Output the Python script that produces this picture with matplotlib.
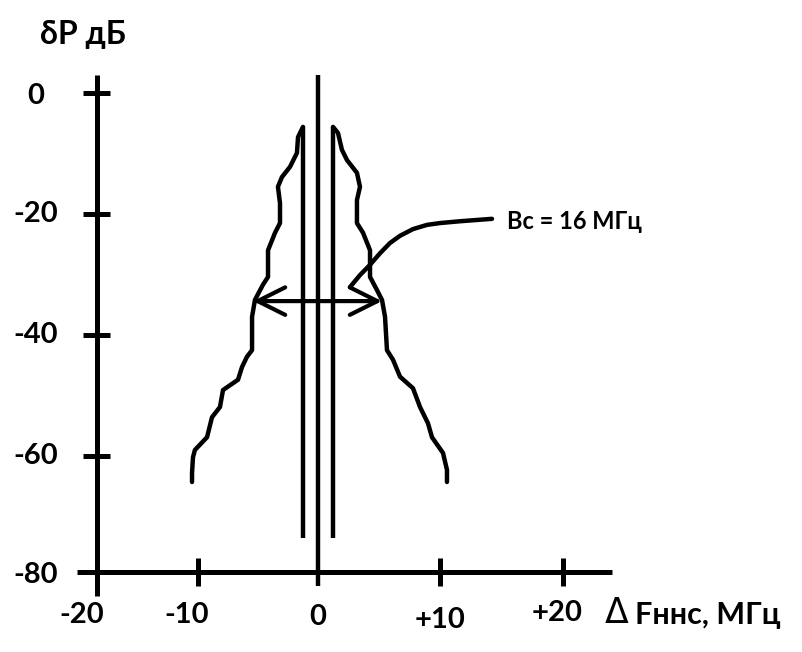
import matplotlib.pyplot as plt

# spectrum edges (MHz, dB)
left_f = [-1.24, -1.65, -1.74, -2.31, -2.98, -3.31, -3.14, -3.14, -3.55, -4.13,
          -4.13, -4.55, -5.21, -5.45, -5.45, -5.87, -6.28, -6.61, -7.85, -8.10,
          -8.76, -9.17, -10.17, -10.33, -10.41, -10.41]
left_p = [-5.6, -7.3, -9.9, -12.2, -13.9, -15.5, -18.2, -21.5, -23.1, -26.0,
          -30.4, -31.7, -34.2, -37.0, -42.5, -43.6, -45.3, -47.4, -49.1, -51.9,
          -53.6, -56.9, -59.0, -60.2, -62.8, -64.3]
right_f = [1.24, 1.65, 1.98, 2.40, 3.22, 3.47, 3.22, 3.22, 3.72, 4.30, 4.30,
           4.88, 5.29, 5.54, 5.70, 6.20, 6.78, 7.85, 8.43, 9.09, 9.42, 10.33,
           10.66, 10.66]
right_p = [-5.6, -6.6, -9.4, -11.1, -13.2, -15.5, -17.7, -21.5, -23.1, -26.0,
           -30.4, -32.6, -34.2, -37.0, -42.5, -44.1, -46.9, -48.8, -51.9, -54.6,
           -56.9, -59.5, -62.3, -64.3]

# carrier lines
carrier_f = [-1.24, 0.0, 1.24]
carrier_top = [-5.6, 3.0, -5.6]
carrier_bottom = [-73.6, -81.5, -73.6]

# bandwidth arrow and leader curve
bw_level = -34.4
bw_edges = [-5.37, 5.29]
leader_f = [2.64, 3.47, 4.30, 5.12, 5.95, 6.78, 7.85, 9.01, 10.08, 11.74, 14.38]
leader_p = [-32.1, -30.1, -28.4, -26.5, -24.8, -23.6, -22.5, -21.8, -21.5, -21.2, -20.8]

# hand drawn axes
yaxis_f = -18.26
xaxis_p = -79.2
y_ticks = [0, -20, -40, -60]
y_labels = ["0", "-20", "-40", "-60", "-80"]
y_label_pos = [-0.5, -20, -40, -60, -79.7]
x_ticks = [-9.92, 10.08, 20.25]
x_labels = ["-20", "-10", "0", "+10", "+20"]
x_label_f = [-19.5, -10.83, 0.0, 10.08, 19.75]
x_label_p = [-86.3, -86.3, -86.6, -87.1, -86.0]

plt.rcParams["font.family"] = ["Lato", "DejaVu Sans"]
plt.rcParams["font.weight"] = "bold"

fig = plt.figure(figsize=(8.02, 6.52), dpi=100)
ax = fig.add_axes([0, 0, 1, 1])
ax.set_xlim(-26.28, 40.0)
ax.set_ylim(-92.4, 15.37)
ax.axis("off")

k = dict(color="black", solid_capstyle="butt")
# axes
ax.plot([yaxis_f, yaxis_f], [3.0, -83.1], lw=3.6, **k)
ax.plot([-19.92, 24.3], [xaxis_p, xaxis_p], lw=3.6, **k)
for t in y_ticks:
    ax.plot([-19.42, -17.19], [t, t], lw=3.6, **k)
for t in x_ticks:
    ax.plot([t, t], [-76.9, -81.5], lw=3.6, **k)

# carriers
for f, a, b in zip(carrier_f, carrier_top, carrier_bottom):
    ax.plot([f, f], [a, b], lw=3.2, **k)

# spectrum
ax.plot(left_f, left_p, color="black", lw=3.2, solid_capstyle="round", solid_joinstyle="round")
ax.plot(right_f, right_p, color="black", lw=3.2, solid_capstyle="round", solid_joinstyle="round")

ax.annotate("", xy=(bw_edges[1], bw_level), xytext=(bw_edges[0], bw_level),
            arrowprops=dict(arrowstyle="<->,head_length=1.1,head_width=0.55",
                            mutation_scale=18, lw=3, color="black",
                            shrinkA=0, shrinkB=0))
ax.plot(leader_f, leader_p, color="black", lw=3.2, solid_capstyle="round")
ax.text(15.62, -21.3, "Bc = 16 МГц", fontsize=17, ha="left", va="center")

# labels
for lab, p in zip(y_labels, y_label_pos):
    ax.text(-23.3, p, lab, fontsize=21, ha="center", va="center")
for lab, f, p in zip(x_labels, x_label_f, x_label_p):
    ax.text(f, p, lab, fontsize=21, ha="center", va="center")
ax.text(-22.98, 9.6, "δP дБ", fontsize=23, ha="left", va="center")
ax.text(23.7, -86.0, "Δ", fontsize=25, ha="left", va="center",
        family=["DejaVu Sans"], fontweight="normal")
ax.text(26.2, -86.3, "Fннс, МГц", fontsize=22, ha="left", va="center")

fig.savefig("out.png", dpi=100)
